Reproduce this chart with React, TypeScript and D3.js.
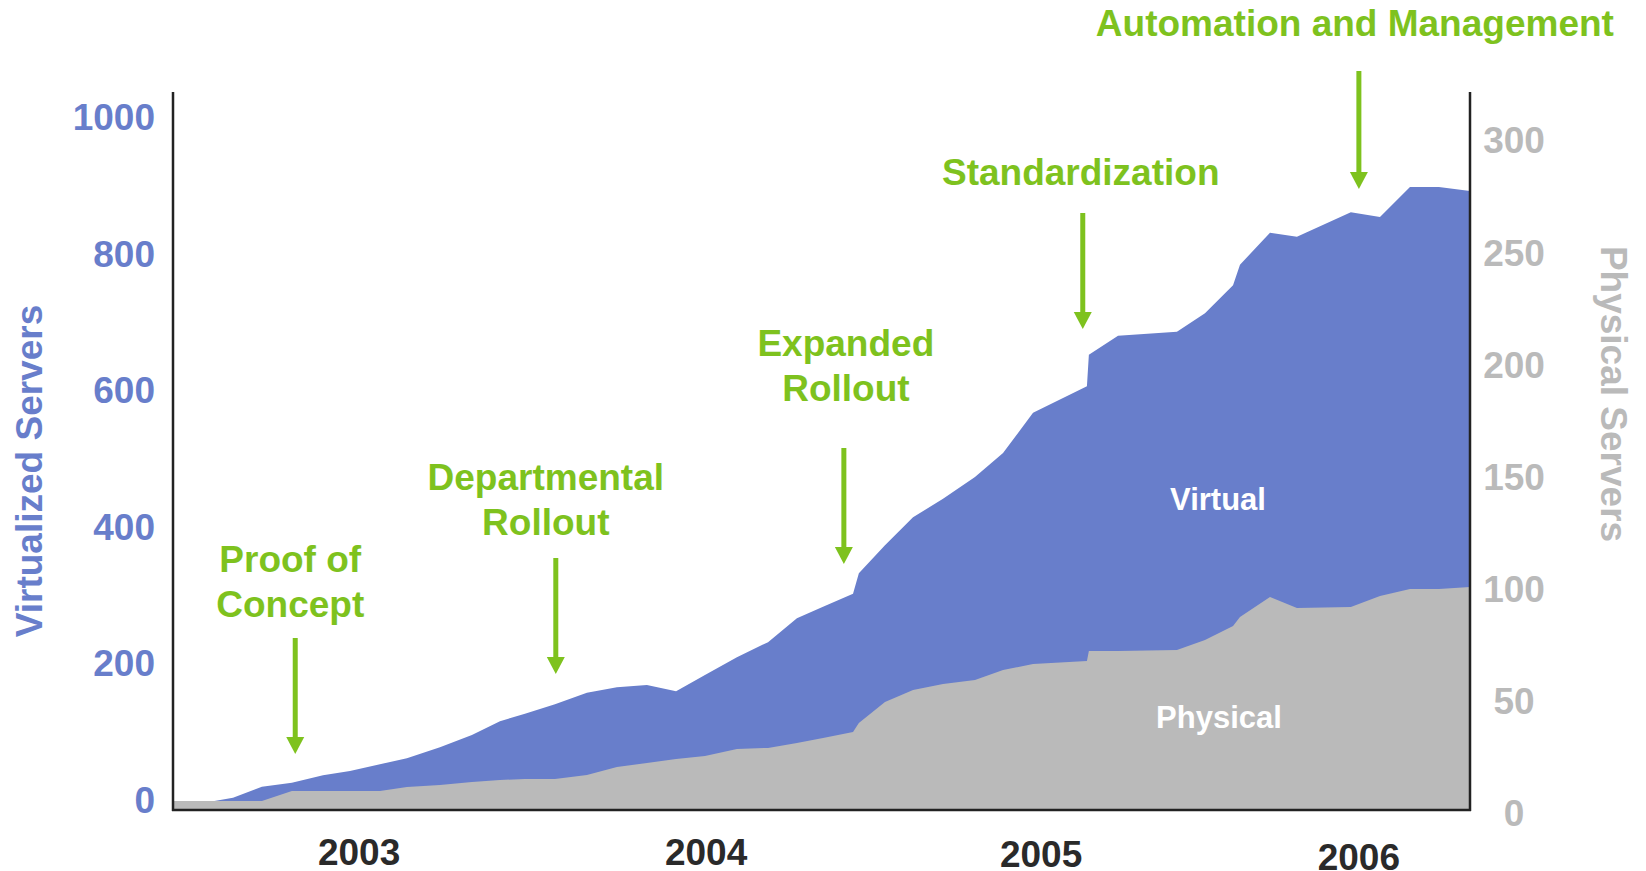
import React from "react";
import * as d3 from "d3";

// months since the start of the plotted period (approx. Dec 2002)
const monthOffset = [0, 1.44, 2.16, 3.2, 4.28, 5.4, 6.37, 7.45, 8.42, 9.61, 10.76, 11.77, 12.67, 13.75, 14.9, 15.98, 17.06, 18.11, 19.15, 20.3, 21.42, 22.46, 23.4, 24.48, 24.69, 25.63, 26.64, 27.72, 28.87, 29.88, 30.96, 32.9, 32.97, 34.02, 36.14, 37.15, 38.16, 38.41, 39.49, 40.46, 42.4, 43.45, 44.53, 45.57, 46.69];
const virtualServers = [13, 13, 18, 34, 40, 51, 57, 67, 76, 92, 110, 130, 141, 155, 172, 180, 183, 174, 198, 224, 246, 281, 298, 317, 347, 388, 429, 456, 488, 523, 582, 621, 667, 695, 701, 728, 769, 799, 846, 840, 876, 869, 913, 913, 907];
const physicalServers = [4, 4, 4, 4, 8.5, 8.5, 8.5, 8.5, 10.3, 11.2, 12.5, 13.4, 13.8, 13.8, 15.6, 19.2, 21, 22.7, 24.1, 27.2, 27.7, 29.9, 32.1, 34.8, 38.8, 48.2, 53.5, 56.2, 58, 62.4, 65.1, 66.5, 70.9, 70.9, 71.4, 75.8, 82.1, 86.1, 95, 90.1, 90.5, 95.4, 98.6, 98.6, 99.5];

const yearLabels = ["2003", "2004", "2005", "2006"];
const yearTickMonths = [6.7, 19.19, 31.25, 42.69];
const yearLabelDrop = [0, 0, 2.5, 5.5];
const leftTicks = [0, 200, 400, 600, 800, 1000];
const rightTicks = [0, 50, 100, 150, 200, 250, 300];

const milestones = [
  { lines: ["Proof of", "Concept"], month: 4.4, textY: 559, arrowTop: 638, arrowTip: 754 },
  { lines: ["Departmental", "Rollout"], month: 13.78, textY: 477, arrowTop: 558, arrowTip: 674 },
  { lines: ["Expanded", "Rollout"], month: 24.15, textY: 343, arrowTop: 448, arrowTip: 564 },
  { lines: ["Standardization"], month: 32.75, textY: 172, arrowTop: 213, arrowTip: 329 },
  { lines: ["Automation and Management"], month: 42.69, textY: 23, arrowTop: 71, arrowTip: 189 },
];
const milestoneTextOffsets = [-5, -10, 2, -2, -4];

const W = 1646;
const H = 871;
const left = 173;
const right = 1470;
const top = 92;
const bottom = 810;

const BLUE = "#687ecb";
const GRAY = "#bababa";
const GREEN = "#7ec21e";
const FONT = "'Liberation Sans', Arial, sans-serif";

export default function App() {
  const x = d3.scaleLinear().domain([0, 46.69]).range([left, right]);
  const yV = d3.scaleLinear().domain([0, 1000]).range([bottom, bottom - 682.4]);
  const yP = d3.scaleLinear().domain([0, 300]).range([bottom, bottom - 672.6]);

  const idx = monthOffset.map((_, i) => i);
  const vArea = d3
    .area<number>()
    .x((i) => x(monthOffset[i]))
    .y0(bottom)
    .y1((i) => yV(virtualServers[i]));
  const pArea = d3
    .area<number>()
    .x((i) => x(monthOffset[i]))
    .y0(bottom)
    .y1((i) => yP(physicalServers[i]));

  return (
    <svg
      width={W}
      height={H}
      style={{ position: "absolute", left: 0, top: 0, background: "#fff" }}
      fontFamily={FONT}
      fontWeight="bold"
    >
      <rect x={0} y={0} width={W} height={H} fill="#fff" />
      <path d={vArea(idx) || ""} fill={BLUE} />
      <path d={pArea(idx) || ""} fill={GRAY} />

      {/* axes */}
      <line x1={left} y1={top} x2={left} y2={bottom + 1} stroke="#222" strokeWidth={2.5} />
      <line x1={right} y1={top} x2={right} y2={bottom + 1} stroke="#222" strokeWidth={2.5} />
      <line x1={left - 1} y1={bottom} x2={right + 1} y2={bottom} stroke="#222" strokeWidth={2.5} />

      {/* left ticks */}
      {leftTicks.map((t) => (
        <text key={"l" + t} x={155} y={yV(t) - 10} textAnchor="end" dominantBaseline="central" fontSize={37} fill={BLUE}>
          {t}
        </text>
      ))}
      {/* right ticks */}
      {rightTicks.map((t) => (
        <text key={"r" + t} x={1514} y={yP(t) + 3.5} textAnchor="middle" dominantBaseline="central" fontSize={37} fill={GRAY}>
          {t}
        </text>
      ))}
      {/* year labels */}
      {yearLabels.map((lab, i) => (
        <text key={lab} x={x(yearTickMonths[i])} y={852 + yearLabelDrop[i]} textAnchor="middle" dominantBaseline="central" fontSize={37} fill="#2a2a2a">
          {lab}
        </text>
      ))}

      {/* axis titles */}
      <text transform={`translate(29,471) rotate(-90)`} textAnchor="middle" dominantBaseline="central" fontSize={37} fill={BLUE}>
        Virtualized Servers
      </text>
      <text transform={`translate(1613,394) rotate(90)`} textAnchor="middle" dominantBaseline="central" fontSize={37} fill={GRAY}>
        Physical Servers
      </text>

      {/* series labels */}
      <text x={1218} y={499} textAnchor="middle" dominantBaseline="central" fontSize={31} fill="#fff">
        Virtual
      </text>
      <text x={1219} y={717} textAnchor="middle" dominantBaseline="central" fontSize={31} fill="#fff">
        Physical
      </text>

      {/* milestones */}
      {milestones.map((m, i) => {
        const ax = x(m.month);
        const tx = ax + milestoneTextOffsets[i];
        return (
          <g key={i}>
            {m.lines.map((ln, j) => (
              <text key={j} x={tx} y={m.textY + j * 45} textAnchor="middle" dominantBaseline="central" fontSize={37} fill={GREEN}>
                {ln}
              </text>
            ))}
            <line x1={ax} y1={m.arrowTop} x2={ax} y2={m.arrowTip - 14} stroke={GREEN} strokeWidth={5} />
            <path d={`M${ax - 9},${m.arrowTip - 17} L${ax + 9},${m.arrowTip - 17} L${ax},${m.arrowTip} Z`} fill={GREEN} />
          </g>
        );
      })}
    </svg>
  );
}
